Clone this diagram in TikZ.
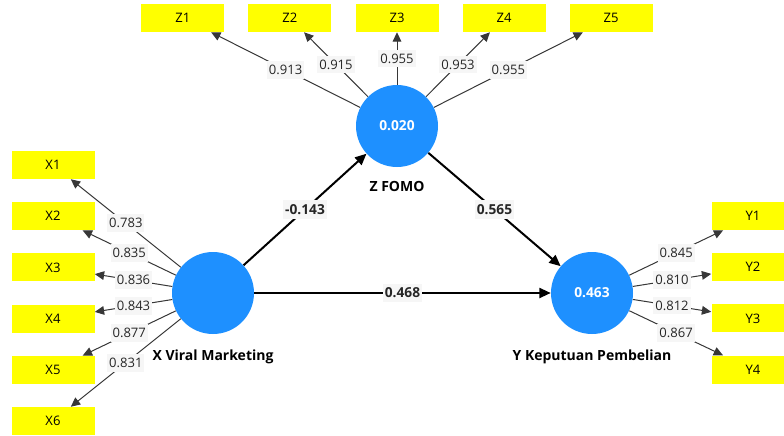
\documentclass[tikz,border=0pt]{standalone}
\usepackage{fontspec}
\setmainfont{Open Sans}
\usetikzlibrary{arrows.meta,positioning}

\definecolor{plsblu}{RGB}{30,144,255}
\definecolor{plsgiallo}{RGB}{255,255,0}
\definecolor{plsfondo}{RGB}{246,246,246}
\definecolor{plslinea}{RGB}{55,55,55}

\begin{document}
\begin{tikzpicture}[x=0.75pt, y=-0.75pt,
    costrutto/.style={circle, fill=plsblu, minimum size=61.5pt, inner sep=0pt,
        text=white, font=\bfseries\fontsize{10.3}{12}\selectfont},
    indicatore/.style={rectangle, fill=plsgiallo, minimum width=62.25pt,
        minimum height=21pt, inner sep=0pt, font=\fontsize{9.8}{11}\selectfont},
    carico/.style={-{Triangle[length=7pt, width=6.5pt]}, draw=plslinea, line width=0.75pt},
    percorso/.style={-{Triangle[length=8.5pt, width=7.5pt]}, draw=black, line width=1.5pt},
    peso/.style={fill=plsfondo, inner xsep=1.5pt, inner ysep=3pt, text=black!85,
        font=\fontsize{9.8}{11}\selectfont},
    pesob/.style={peso, font=\bfseries\fontsize{10.3}{12}\selectfont},
    nome/.style={inner sep=0pt, font=\bfseries\fontsize{10.5}{12}\selectfont}
]
    % Parametri
    \def\passo{51.2}    % distanza verticale tra indicatori
    \def\largo{107.1}   % distanza orizzontale tra indicatori Z

    % Area del disegno
    \useasboundingbox (0,0) rectangle (784,435);
    \clip (0,0) rectangle (784,435);

    % Costrutti
    \node[costrutto] (Z) at (397,126) {0.020};
    \node[costrutto] (X) at (213,293) {};
    \node[costrutto] (Y) at (592,293) {0.463};

    \node[nome, below=10.5pt of Z] (nZ) {Z FOMO};
    \node[nome, below=11.5pt of X] (nX) {X Viral Marketing};
    \node[nome, below=11.5pt of Y] (nY) {Y Keputuan Pembelian};

    % Indicatori di Z
    \foreach \i/\v in {1/0.913, 2/0.915, 3/0.955, 4/0.953, 5/0.955} {
        \node[indicatore] (Z\i) at ({397+(\i-3)*\largo},18) {Z\i};
        \draw[carico] (Z) -- (Z\i) node[peso, midway] (lZ\i) {\v};
    }

    % Indicatori di X
    \foreach \i/\v in {1/0.783, 2/0.835, 3/0.836, 4/0.843, 5/0.877, 6/0.831} {
        \node[indicatore] (X\i) at (53,{165+(\i-1)*\passo}) {X\i};
        \draw[carico] (X) -- (X\i) node[peso, midway] (lX\i) {\v};
    }

    % Indicatori di Y
    \foreach \i/\v in {1/0.845, 2/0.810, 3/0.812, 4/0.867} {
        \node[indicatore] (Y\i) at (753,{216+(\i-1)*\passo}) {Y\i};
        \draw[carico] (Y) -- (Y\i) node[peso, midway] (lY\i) {\v};
    }

    % Percorsi strutturali
    \draw[percorso] (X) -- (Z) node[pesob, midway] (pXZ) {-0.143};
    \draw[percorso] (Z) -- (Y) node[pesob, midway] (pZY) {0.565};
    \draw[percorso] (X) -- (Y) node[pesob, midway] (pXY) {0.468};

\end{tikzpicture}
\end{document}
